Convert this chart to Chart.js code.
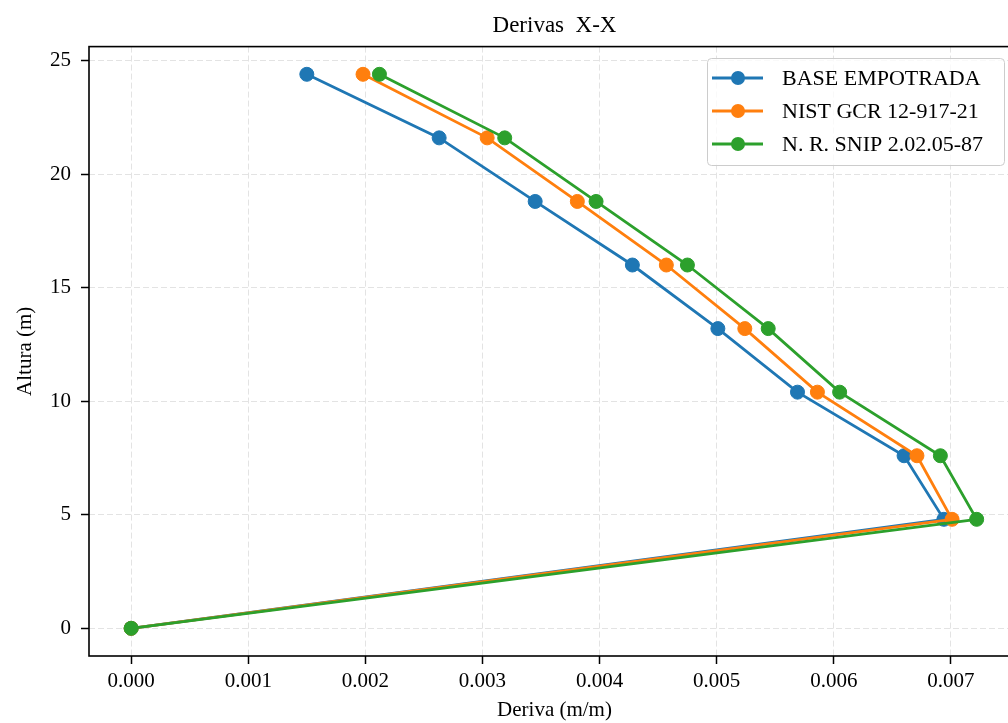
<!DOCTYPE html>
<html>
<head>
<meta charset="utf-8">
<script src="https://cdn.jsdelivr.net/npm/chart.js@4.4.1/dist/chart.umd.min.js"></script>
<style>
    html, body { margin: 0; padding: 0; background: #fff; overflow: hidden; }
    #wrap { width: 1028px; height: 723px; position: relative; }
</style>
</head>
<body>
<div id="wrap"><canvas id="derivas-chart"></canvas></div>
<script>
// Heights of each level (m)
const alturas = [0, 4.8, 7.6, 10.4, 13.2, 16.0, 18.8, 21.6, 24.4];

// Drift values (m/m) for each model
const baseEmpotrada = [0, 0.00694, 0.00660, 0.00569, 0.00501, 0.00428, 0.00345, 0.00263, 0.00150];
const nistGcr = [0, 0.00701, 0.00671, 0.00586, 0.00524, 0.00457, 0.00381, 0.00304, 0.00198];
const snip = [0, 0.00722, 0.00691, 0.00605, 0.00544, 0.00475, 0.00397, 0.00319, 0.00212];

const seriesLabels = ['BASE EMPOTRADA', 'NIST GCR 12-917-21', 'N. R. SNIP 2.02.05-87'];
const seriesColors = ['#1f77b4', '#ff7f0e', '#2ca02c'];

const xTicks = [0, 0.001, 0.002, 0.003, 0.004, 0.005, 0.006, 0.007];
const yTicks = [0, 5, 10, 15, 20, 25];

const FONT = "'Liberation Serif', 'Times New Roman', serif";

// Pair drift with height
function toPoints(values) {
    return values.map((v, i) => ({ x: v, y: alturas[i] }));
}

// Draws the spines around the plot area
const framePlugin = {
    id: 'frame',
    afterDraw(chart) {
        const { ctx, chartArea } = chart;
        ctx.save();
        ctx.strokeStyle = '#000';
        ctx.lineWidth = 1.6;
        ctx.strokeRect(chartArea.left, chartArea.top, chartArea.right - chartArea.left, chartArea.bottom - chartArea.top);
        ctx.restore();
    }
};

// Matplotlib-like legend box in the upper right corner
const legendBoxPlugin = {
    id: 'legendBox',
    afterDatasetsDraw(chart) {
        const ctx = chart.ctx;
        const boxX = 707, boxY = 58, boxW = 297, boxH = 107;
        ctx.save();
        ctx.fillStyle = 'rgba(255,255,255,0.8)';
        ctx.strokeStyle = '#cccccc';
        ctx.lineWidth = 1;
        ctx.beginPath();
        ctx.roundRect(boxX + 0.5, boxY + 0.5, boxW, boxH, 4);
        ctx.fill();
        ctx.stroke();

        ctx.font = '22px ' + FONT;
        ctx.textBaseline = 'middle';
        ctx.textAlign = 'left';
        chart.data.datasets.forEach((ds, i) => {
            const rowY = 78 + i * 33;
            ctx.strokeStyle = ds.borderColor;
            ctx.lineWidth = 2.8;
            ctx.beginPath();
            ctx.moveTo(712, rowY);
            ctx.lineTo(763, rowY);
            ctx.stroke();
            ctx.fillStyle = ds.backgroundColor;
            ctx.beginPath();
            ctx.arc(738, rowY, 7, 0, Math.PI * 2);
            ctx.fill();
            ctx.fillStyle = '#000';
            ctx.fillText(ds.label, 782, rowY + 1);
        });
        ctx.restore();
    }
};

const datasets = [baseEmpotrada, nistGcr, snip].map((values, i) => ({
    label: seriesLabels[i],
    data: toPoints(values),
    borderColor: seriesColors[i],
    backgroundColor: seriesColors[i],
    borderWidth: 2.8,
    pointRadius: 7,
    pointHoverRadius: 7,
    pointBorderWidth: 1,
    showLine: true,
    tension: 0,
    order: 3 - i
}));

const gridOpts = {
    color: 'rgba(176,176,176,0.35)',
    lineWidth: 1,
    drawTicks: true,
    tickLength: 8,
    tickColor: '#000',
    tickWidth: 1.5,
    tickBorderDash: []
};

const myChart = new Chart(document.getElementById('derivas-chart'), {
    type: 'scatter',
    data: { datasets: datasets },
    plugins: [framePlugin, legendBoxPlugin],
    options: {
        responsive: true,
        maintainAspectRatio: false,
        animation: false,
        layout: { padding: { top: 0, right: 6, bottom: 0, left: 0 } },
        plugins: {
            legend: { display: false },
            tooltip: { enabled: false },
            title: {
                display: true,
                text: 'Derivas  X-X',
                fullSize: false,
                color: '#000',
                font: { family: FONT, size: 23, weight: 'normal', lineHeight: 1.2 },
                padding: { top: 12, bottom: 7 }
            }
        },
        scales: {
            x: {
                type: 'linear',
                min: -0.00036,
                max: 0.00759,
                grid: gridOpts,
                border: { display: false, dash: [6, 3] },
                afterBuildTicks: scale => { scale.ticks = xTicks.map(v => ({ value: v })); },
                afterFit: scale => { scale.height = 67; },
                ticks: {
                    color: '#000',
                    padding: 5,
                    maxRotation: 0,
                    font: { family: FONT, size: 21 },
                    callback: v => v.toFixed(3)
                },
                title: {
                    display: true,
                    text: 'Deriva (m/m)',
                    color: '#000',
                    font: { family: FONT, size: 21 },
                    padding: { top: 0, bottom: 0 }
                }
            },
            y: {
                type: 'linear',
                min: -1.22,
                max: 25.62,
                grid: gridOpts,
                border: { display: false, dash: [6, 3] },
                afterBuildTicks: scale => { scale.ticks = yTicks.map(v => ({ value: v })); },
                afterFit: scale => { scale.width = 89; },
                ticks: {
                    color: '#000',
                    padding: 10,
                    font: { family: FONT, size: 21 },
                    callback: v => String(v)
                },
                title: {
                    display: true,
                    text: 'Altura (m)',
                    color: '#000',
                    font: { family: FONT, size: 21 },
                    padding: { top: 13, bottom: 0 }
                }
            }
        }
    }
});
</script>
</body>
</html>
